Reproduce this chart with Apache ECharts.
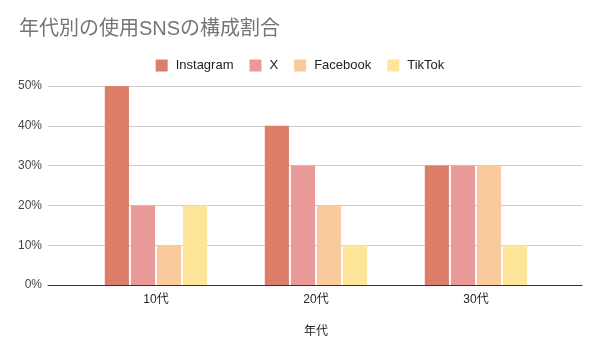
<!DOCTYPE html>
<html>
<head>
<meta charset="utf-8">
<script src="https://cdn.jsdelivr.net/npm/echarts@6/dist/echarts.min.js"></script>
<style>
  html, body { margin: 0; padding: 0; background: #fff; }
  #chart { width: 600px; height: 355px; }
</style>
</head>
<body>
<div id="chart"></div>
<script>
const categories = ['10代', '20代', '30代']
const seriesNames = ['Instagram', 'X', 'Facebook', 'TikTok']
const instagram = [50, 40, 30]
const xValues = [20, 30, 30]
const facebook = [10, 20, 30]
const tiktok = [20, 10, 10]
const colors = ['#dd7e6b', '#ea9999', '#f9cb9c', '#ffe599']

const font = "'Liberation Sans', Arial, 'Noto Sans CJK JP', sans-serif"
const seriesData = [instagram, xValues, facebook, tiktok]

const chart = echarts.init(document.getElementById('chart'))
const option = {
  animation: false,
  textStyle: {fontFamily: font},
  title: {
    text: '年代別の使用SNSの構成割合',
    left: 14,
    top: 14,
    textStyle: {color: '#757575', fontSize: 20, fontWeight: 'normal', fontFamily: font}
  },
  legend: {
    data: seriesNames,
    top: 54,
    left: 'center',
    itemWidth: 12,
    itemHeight: 12,
    itemGap: 16,
    icon: 'rect',
    textStyle: {color: '#222', fontSize: 13, fontFamily: font, padding: [0, 0, 0, 3]}
  },
  grid: [
    {left: 48, right: 18, top: 86, bottom: 70},
    {left: 76, right: 44, top: 86, bottom: 70}
  ],
  xAxis: [
    {
      gridIndex: 0,
      type: 'category',
      data: [''],
      axisLine: {lineStyle: {color: '#333'}},
      axisTick: {show: false},
      axisLabel: {show: false},
      z: 10
    },
    {
      gridIndex: 1,
      type: 'category',
      data: categories,
      axisLine: {show: false},
      axisTick: {show: false},
      axisLabel: {color: '#222', fontSize: 12, margin: 9},
      name: '年代',
      nameLocation: 'middle',
      nameGap: 41,
      nameTextStyle: {color: '#222', fontSize: 12}
    }
  ],
  yAxis: [
    {
      gridIndex: 0,
      type: 'value',
      min: 0,
      max: 50,
      interval: 10,
      axisLine: {show: false},
      axisTick: {show: false},
      axisLabel: {formatter: '{value}%', color: '#444', fontSize: 12, margin: 6},
      splitLine: {lineStyle: {color: '#ccc'}}
    },
    {
      gridIndex: 1,
      type: 'value',
      min: 0,
      max: 50,
      show: false
    }
  ],
  series: seriesNames.map((name, i) => ({
    name: name,
    type: 'bar',
    xAxisIndex: 1,
    yAxisIndex: 1,
    data: seriesData[i],
    itemStyle: {color: colors[i]},
    barGap: '8%',
    barCategoryGap: '36%'
  }))
}
chart.setOption(option)
</script>
</body>
</html>
